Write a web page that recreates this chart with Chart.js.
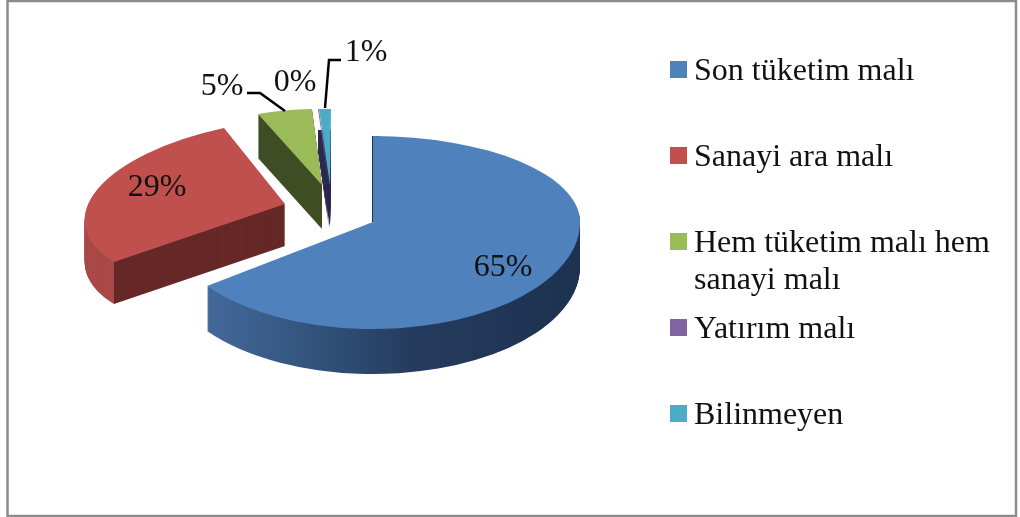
<!DOCTYPE html>
<html><head><meta charset="utf-8">
<style>html,body{margin:0;padding:0;background:#fff}canvas{display:block}</style>
<script src="https://cdn.jsdelivr.net/npm/chart.js@4/dist/chart.umd.min.js"></script>
</head><body>
<canvas id="c" width="1020" height="517"></canvas>
<script>
const categories = ['Son tüketim malı','Sanayi ara malı',['Hem tüketim malı hem','sanayi malı'],'Yatırım malı','Bilinmeyen'];
const shares = [64.8, 28.8, 5.0, 0.4, 1.0];
const faceColors = ['#4f81bd','#c0504d','#9bbb59','#8064a2','#4bacc6'];
const sideColors = ['#2a4468','#662927','#3f4d24','#2f2b52','#2f2b52'];

const FONT = '32px "Liberation Serif"';
const INK = '#111';
// Where each exploded wedge sits in the tilted view (tip, and where its two outer corners land)
const views = [
  {tip:[373,222], depth:45, pieces:[{m:[1,0,0,.415],clip:'above'},{m:[1,0,0,.517],clip:'below'}]},
  {tip:[285,204], depth:42, start:[114,262], end:[224,128]},
  {tip:[322,185], depth:44, start:[258,114], end:[312,109]},
  {tip:[329,186], depth:42, start:[318,109], end:[319,109], sideFrom:130},
  {tip:[330,185], depth:42, start:[319,109], end:[331,109], sideFrom:130}
];
const labelSpots = [[503,268],[157,188],[222,87],[295,83],[366,53]];
const leaders = [[[247,93],[260,93],[285,111]],[[341,60],[329,60],[325,108]]];
const legendLeft = 670, legendTop = 61, legendStep = 86, legendBox = 17, legendLine = 37;

function solve(el, v){
  const R = el.outerRadius, rot = a => [R*Math.cos(a), R*Math.sin(a)];
  const p = rot(el.startAngle), q = rot(el.endAngle);
  const u = [v.start[0]-v.tip[0], v.start[1]-v.tip[1]], w = [v.end[0]-v.tip[0], v.end[1]-v.tip[1]];
  const D = p[0]*q[1]-p[1]*q[0];
  return [(u[0]*q[1]-p[1]*w[0])/D, (u[1]*q[1]-p[1]*w[1])/D, (p[0]*w[0]-u[0]*q[0])/D, (p[0]*w[1]-u[1]*q[0])/D];
}
function paint(ctx, el, color){
  const keep = el.options;
  el.options = Object.assign({}, keep, {backgroundColor:color, borderWidth:0});
  el.draw(ctx);
  el.options = keep;
}
function place(ctx, el, v, dx, dy, color, band){
  const pieces = v.pieces || [{m:solve(el,v)}];
  pieces.forEach(pc => {
    ctx.save();
    if (pc.clip || band){
      ctx.beginPath();
      const y0 = pc.clip==='below' ? v.tip[1]+dy : -100;
      const y1 = pc.clip==='above' ? v.tip[1]+dy : 700;
      const x0 = band ? band[0] : -100, x1 = band ? band[1] : 1200;
      ctx.rect(x0,y0,x1-x0,y1-y0); ctx.clip();
    }
    ctx.translate(v.tip[0]+dx, v.tip[1]+dy);
    ctx.transform(pc.m[0],pc.m[1],pc.m[2],pc.m[3],0,0);
    ctx.translate(-el.x,-el.y);
    paint(ctx, el, color);
    ctx.restore();
  });
}

const tilted = {
  id:'tilted',
  beforeDraw(chart){
    const ctx = chart.ctx;
    ctx.save();
    ctx.strokeStyle='#8c8c8c'; ctx.lineWidth=2.5;
    ctx.strokeRect(7.5,1,1008.5,515);
    ctx.restore();
  },
  beforeDatasetDraw(chart){
    const ctx = chart.ctx, arcs = chart.getDatasetMeta(0).data;
    // side walls, far wedges first
    [2,4,3,1,0].forEach(i => {
      const el = arcs[i], v = views[i];
      let side = sideColors[i];
      if (i===0){
        const lx = X => X - v.tip[0] + el.x;
        side = ctx.createLinearGradient(lx(205),0,lx(580),0);
        side.addColorStop(0,'#44699c');
        side.addColorStop(.25,'#345680');
        side.addColorStop(.55,'#253c5e');
        side.addColorStop(1,'#1d3150');
      }
      ctx.save();
      if (v.sideFrom){ ctx.beginPath(); ctx.rect(0,v.sideFrom,1020,400); ctx.clip(); }
      for (let d=v.depth; d>=1; d--){
        if (i===1){
          place(ctx, el, v, 0, d, '#a84a47', [0,114]);
          place(ctx, el, v, 0, d, side, [114,1020]);
        } else place(ctx, el, v, 0, d, side);
      }
      ctx.restore();
    });
    // thin dark wall along the blue wedge's upright cut
    ctx.save();
    ctx.beginPath(); ctx.rect(360,130,20,views[0].tip[1]-130); ctx.clip();
    place(ctx, arcs[0], views[0], -1, 0, '#1d3150');
    ctx.restore();
    // top faces
    arcs.forEach((el,i) => place(ctx, el, views[i], 0, 0, faceColors[i]));
    return false;
  },
  afterDraw(chart){
    const ctx = chart.ctx;
    ctx.save();
    ctx.strokeStyle='#000'; ctx.lineWidth=2.5; ctx.lineJoin='miter';
    leaders.forEach(l => {
      ctx.beginPath();
      l.forEach((p,i)=> i? ctx.lineTo(p[0],p[1]) : ctx.moveTo(p[0],p[1]));
      ctx.stroke();
    });
    ctx.font = FONT; ctx.fillStyle = INK;
    ctx.textAlign='center'; ctx.textBaseline='middle';
    shares.forEach((s,i)=> ctx.fillText(Math.round(s)+'%', labelSpots[i][0], labelSpots[i][1]));
    ctx.textAlign='left'; ctx.textBaseline='alphabetic';
    categories.forEach((c,i)=>{
      const top = legendTop + i*legendStep;
      ctx.fillStyle = faceColors[i];
      ctx.fillRect(legendLeft, top, legendBox, legendBox);
      ctx.fillStyle = INK;
      [].concat(c).forEach((t,k)=> ctx.fillText(t, legendLeft+24, top+19+k*legendLine));
    });
    ctx.restore();
  }
};

new Chart(document.getElementById('c'), {
  type:'pie',
  data:{labels:categories, datasets:[{data:shares, backgroundColor:faceColors, borderWidth:0}]},
  options:{
    responsive:false, animation:false,
    layout:{padding:{top:51,bottom:52,left:0,right:270}},
    plugins:{legend:{display:false},tooltip:{enabled:false}},
    events:[]
  },
  plugins:[tilted]
});
</script>
</body></html>
